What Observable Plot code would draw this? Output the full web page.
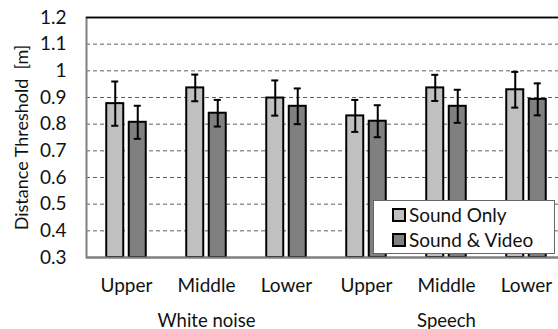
<!DOCTYPE html>
<html>
<head>
<meta charset="utf-8">
<script src="https://cdn.jsdelivr.net/npm/d3@7"></script>
<script src="https://cdn.jsdelivr.net/npm/@observablehq/plot@0.6"></script>
<style>
  html, body { margin: 0; padding: 0; background: #fff; overflow: hidden; }
  #wrap { position: relative; width: 558px; height: 329px; overflow: hidden; font-family: Lato, "Open Sans", sans-serif; }
  #wrap svg { display: block; overflow: hidden; max-width: none; }
  #legend { position: absolute; left: 373px; top: 200px; width: 182px; height: 54px; background: #fff; border: 1px solid #666; box-sizing: border-box; }
  .item { position: absolute; left: 18px; display: flex; align-items: center; font-size: 19px; color: #111; white-space: nowrap; }
  .sw { width: 10px; height: 10px; border: 2px solid #000; margin-right: 3px; }
</style>
</head>
<body>
<div id="wrap"><div id="legend"></div></div>
<script>
const groups = ["White noise", "White noise", "White noise", "Speech", "Speech", "Speech"];
const positions = ["Upper", "Middle", "Lower", "Upper", "Middle", "Lower"];
const seriesNames = ["Sound Only", "Sound & Video"];
const seriesColors = ["#c0c0c0", "#808080"];
const soundOnly = [0.877, 0.936, 0.898, 0.831, 0.936, 0.929];
const soundOnlyErr = [0.083, 0.050, 0.066, 0.060, 0.049, 0.067];
const soundVideo = [0.807, 0.841, 0.867, 0.811, 0.867, 0.893];
const soundVideoErr = [0.062, 0.050, 0.067, 0.060, 0.062, 0.060];
const yTicks = [0.3, 0.4, 0.5, 0.6, 0.7, 0.8, 0.9, 1.0, 1.1, 1.2];
const gridTicks = [0.4, 0.5, 0.6, 0.7, 0.8, 0.9, 1.0, 1.1];
const groupLabels = ["White noise", "Speech"];
const yLabel = "Distance Threshold  [m]";

const keys = groups.map((g, i) => g + "|" + positions[i]);
const rows = [];
[soundOnly, soundVideo].forEach((vals, s) => {
  const errs = s === 0 ? soundOnlyErr : soundVideoErr;
  vals.forEach((v, i) => rows.push({key: keys[i], series: seriesNames[s], value: v, err: errs[i], s}));
});
const base = 0.3;
const font = "Lato, 'Open Sans', sans-serif";

function seriesMarks(s) {
  const data = rows.filter(d => d.s === s);
  const dx = s === 0 ? -11.25 : 11.25;
  return [
    Plot.barY(data, {x: "key", y1: () => base, y2: "value", fill: seriesColors[s], stroke: "#000", strokeWidth: 2, insetLeft: 31.5, insetRight: 31.5, dx}),
    Plot.ruleX(data, {x: "key", y1: d => d.value - d.err, y2: d => d.value + d.err, stroke: "#000", strokeWidth: 2, dx}),
    Plot.tickY(data, {x: "key", y: d => d.value - d.err, stroke: "#000", strokeWidth: 2, insetLeft: 36.5, insetRight: 36.5, dx}),
    Plot.tickY(data, {x: "key", y: d => d.value + d.err, stroke: "#000", strokeWidth: 2, insetLeft: 36.5, insetRight: 36.5, dx})
  ];
}

const groupData = groupLabels.map(g => ({label: g, key: g + "|Middle"}));

const chart = Plot.plot({
  width: 566,
  height: 329,
  marginLeft: 86,
  marginRight: 0,
  marginTop: 17,
  marginBottom: 72,
  style: {fontFamily: font, background: "#fff", overflow: "hidden"},
  x: {domain: keys, padding: 0, axis: null},
  y: {domain: [0.3, 1.2], axis: null},
  marks: [
    Plot.gridY(gridTicks, {stroke: "#606060", strokeOpacity: 1, strokeWidth: 1, strokeDasharray: "4,3"}),
    Plot.frame({stroke: "#808080", strokeWidth: 2}),
    ...seriesMarks(0),
    ...seriesMarks(1),
    Plot.ruleY([0.3], {stroke: "#808080", strokeWidth: 2}),
    Plot.ruleY([1.2], {stroke: "#000", strokeWidth: 1.5}),
    Plot.axisY(yTicks, {tickSize: 0, tickPadding: 20, fontSize: 19, fill: "#111", tickFormat: d => String(+d.toFixed(1)), label: null}),
    Plot.axisX({tickSize: 0, tickPadding: 21, fontSize: 19, fill: "#111", tickFormat: d => d.split("|")[1], label: null}),
    Plot.text(groupData, {x: "key", text: "label", frameAnchor: "bottom", lineAnchor: "bottom", dy: 69, fontSize: 18.5, fill: "#111"}),
    Plot.text([yLabel], {text: d => d, frameAnchor: "left", textAnchor: "middle", rotate: -90, dx: -64, fontSize: 18, fill: "#111"})
  ]
});
document.getElementById("wrap").prepend(chart);

const legend = document.getElementById("legend");
seriesNames.forEach((name, i) => {
  const item = document.createElement("div");
  item.className = "item";
  item.style.top = (i === 0 ? 2 : 27) + "px";
  const sw = document.createElement("div");
  sw.className = "sw";
  sw.style.background = seriesColors[i];
  const t = document.createElement("span");
  t.textContent = name;
  item.append(sw, t);
  legend.append(item);
});
</script>
</body>
</html>
